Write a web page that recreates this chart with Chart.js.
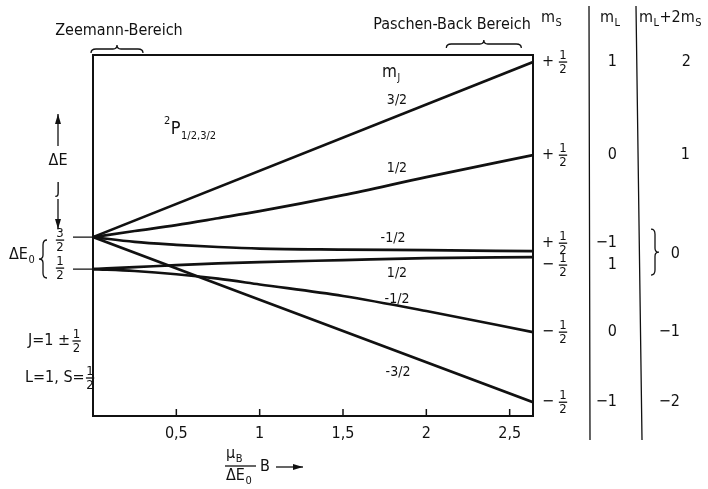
<!DOCTYPE html>
<html>
<head>
<meta charset="utf-8">
<script src="https://cdn.jsdelivr.net/npm/chart.js@4"></script>
<style>
  html, body { margin: 0; padding: 0; background: #fff; }
  #wrap { width: 708px; height: 489px; position: relative; }
</style>
</head>
<body>
<div id="wrap"><canvas id="zeeman"></canvas></div>
<script>
const feld = [0, 0.25, 0.5, 0.75, 1, 1.5, 2, 2.64];
const feldLin = [0, 2.64];

// Energien in Einheiten von dE0, gezaehlt vom J=1/2 Niveau
const mj32 = [1.0, 6.47];
const mjm32 = [1.0, -4.16];
const mj12oben = [1.0, 1.19, 1.375, 1.59, 1.81, 2.31, 2.875, 3.56];
const mjm12oben = [1.0, 0.85, 0.76, 0.69, 0.64, 0.61, 0.59, 0.56];
const mj12unten = [0, 0.06, 0.125, 0.18, 0.22, 0.28, 0.34, 0.375];
const mjm12unten = [0, -0.06, -0.16, -0.30, -0.48, -0.84, -1.31, -1.97];

const xTicks = [0.5, 1, 1.5, 2, 2.5];

// Tabelle rechts: m_S, m_L, m_L+2m_S (von oben nach unten)
const msVorz = ["+", "+", "+", "\u2212", "\u2212", "\u2212"];
const mlWerte = ["1", "0", "\u22121", "1", "0", "\u22121"];
const summe = ["2", "1", "0", "0", "\u22121", "\u22122"];

const FONT = "'DejaVu Sans Condensed', 'Liberation Sans Narrow', sans-serif";

function pts(xs, ys) {
  return xs.map((x, i) => ({ x: x, y: ys[i] }));
}

function linie(data) {
  return {
    data: data,
    showLine: true,
    borderColor: "#111",
    borderWidth: 2.7,
    pointRadius: 0,
    cubicInterpolationMode: "monotone",
  };
}

function text(ctx, s, x, y, size, align) {
  ctx.font = size + "px " + FONT;
  ctx.textAlign = align || "center";
  ctx.textBaseline = "middle";
  ctx.fillText(s, x, y);
}

// Textteile nebeneinander: [text, groesse, versatz]
function folge(ctx, teile, x, y) {
  teile.forEach(t => {
    ctx.font = t[1] + "px " + FONT;
    ctx.textAlign = "left";
    ctx.textBaseline = "middle";
    ctx.fillText(t[0], x, y + (t[2] || 0));
    x += ctx.measureText(t[0]).width + 0.5;
  });
  return x;
}

// gestapelter Bruch mit Strich bei y
function bruch(ctx, z, n, x, y, size) {
  text(ctx, z, x, y - size * 0.5, size);
  text(ctx, n, x, y + size * 0.55, size);
  ctx.lineWidth = 1.3;
  ctx.beginPath();
  ctx.moveTo(x - size * 0.32, y);
  ctx.lineTo(x + size * 0.32, y);
  ctx.stroke();
}

// waagerechte geschweifte Klammer, Spitze nach oben
function klammerOben(ctx, x1, x2, y) {
  const m = (x1 + x2) / 2;
  ctx.lineWidth = 1.3;
  ctx.beginPath();
  ctx.moveTo(x1, y + 4);
  ctx.quadraticCurveTo(x1, y, x1 + 5, y);
  ctx.lineTo(m - 4, y);
  ctx.quadraticCurveTo(m, y, m, y - 4);
  ctx.quadraticCurveTo(m, y, m + 4, y);
  ctx.lineTo(x2 - 5, y);
  ctx.quadraticCurveTo(x2, y, x2, y + 4);
  ctx.stroke();
}

// senkrechte Klammer, dir=-1 oeffnet nach rechts ({), dir=1 nach links (})
function klammerSenk(ctx, x, y1, y2, dir) {
  const m = (y1 + y2) / 2;
  ctx.lineWidth = 1.3;
  ctx.beginPath();
  ctx.moveTo(x - dir * 4, y1);
  ctx.quadraticCurveTo(x, y1, x, y1 + 5);
  ctx.lineTo(x, m - 4);
  ctx.quadraticCurveTo(x, m, x + dir * 4, m);
  ctx.quadraticCurveTo(x, m, x, m + 4);
  ctx.lineTo(x, y2 - 5);
  ctx.quadraticCurveTo(x, y2, x - dir * 4, y2);
  ctx.stroke();
}

function pfeil(ctx, x1, y1, x2, y2) {
  const a = Math.atan2(y2 - y1, x2 - x1);
  ctx.lineWidth = 1.3;
  ctx.beginPath();
  ctx.moveTo(x1, y1);
  ctx.lineTo(x2, y2);
  ctx.stroke();
  ctx.beginPath();
  ctx.moveTo(x2, y2);
  ctx.lineTo(x2 - 10 * Math.cos(a) + 3 * Math.sin(a), y2 - 10 * Math.sin(a) - 3 * Math.cos(a));
  ctx.lineTo(x2 - 10 * Math.cos(a) - 3 * Math.sin(a), y2 - 10 * Math.sin(a) + 3 * Math.cos(a));
  ctx.closePath();
  ctx.fill();
}

const beschriftung = {
  id: "beschriftung",
  afterDatasetsDraw(chart) {
    const ctx = chart.ctx;
    const a = chart.chartArea;
    const sx = chart.scales.x;
    const sy = chart.scales.y;
    ctx.save();
    ctx.fillStyle = "#111";
    ctx.strokeStyle = "#111";

    // Rahmen
    ctx.lineWidth = 2;
    ctx.strokeRect(a.left, a.top, a.right - a.left, a.bottom - a.top);

    // Teilstriche nach innen
    ctx.lineWidth = 1.5;
    xTicks.forEach(t => {
      const px = sx.getPixelForValue(t);
      ctx.beginPath();
      ctx.moveTo(px, a.bottom);
      ctx.lineTo(px, a.bottom - 7);
      ctx.stroke();
    });

    // Bereiche oben
    text(ctx, "Zeemann-Bereich", 119, 31, 16);
    klammerOben(ctx, a.left - 2, sx.getPixelForValue(0.3), 49);
    text(ctx, "Paschen-Back Bereich", 452, 25, 16);
    klammerOben(ctx, sx.getPixelForValue(2.12), sx.getPixelForValue(2.57), 44);

    // Kopf der Tabelle
    folge(ctx, [["m", 16], ["S", 11, 5]], 541, 18);
    folge(ctx, [["m", 16], ["L", 11, 5]], 600, 18);
    folge(ctx, [["m", 16], ["L", 11, 5], ["+2m", 16], ["S", 11, 5]], 639, 18);

    ctx.lineWidth = 1.3;
    ctx.beginPath();
    ctx.moveTo(589, 6);
    ctx.lineTo(590, 440);
    ctx.moveTo(636, 6);
    ctx.lineTo(642, 440);
    ctx.stroke();

    // Endwerte der Kurven rechts
    const enden = [mj32[1], mj12oben[7], mjm12oben[7], mj12unten[7], mjm12unten[7], mjm32[1]];
    const ys = enden.map(v => sy.getPixelForValue(v));
    ys[2] -= 8;
    ys[3] += 8;
    ys.forEach((py, i) => {
      text(ctx, msVorz[i], 548, py, 16);
      bruch(ctx, "1", "2", 563, py, 13);
      text(ctx, mlWerte[i], 617, py, 16, "right");
    });
    text(ctx, summe[0], 691, ys[0], 16, "right");
    text(ctx, summe[1], 690, ys[1], 16, "right");
    text(ctx, summe[2], 680, (ys[2] + ys[3]) / 2, 16, "right");
    klammerSenk(ctx, 655, ys[2] - 14, ys[3] + 10, 1);
    text(ctx, summe[4], 680, ys[4], 16, "right");
    text(ctx, summe[5], 680, ys[5], 16, "right");

    // linke Seite
    const y32 = sy.getPixelForValue(mj32[0]);
    const y12 = sy.getPixelForValue(mj12unten[0]);
    ctx.lineWidth = 1.3;
    ctx.beginPath();
    ctx.moveTo(73, y32);
    ctx.lineTo(a.left, y32);
    ctx.moveTo(73, y12);
    ctx.lineTo(a.left, y12);
    ctx.stroke();
    pfeil(ctx, 58, 146, 58, 114);
    text(ctx, "\u0394E", 58, 161, 16);
    text(ctx, "J", 58, 190, 16);
    pfeil(ctx, 58, 199, 58, 229);
    bruch(ctx, "3", "2", 60, y32 + 3, 13);
    bruch(ctx, "1", "2", 60, y12 - 1, 13);
    folge(ctx, [["\u0394E", 16], ["0", 11, 5]], 9, 255);
    klammerSenk(ctx, 43, 240, 278, -1);
    let xe = folge(ctx, [["J=1 \u00b1", 16]], 28, 341);
    bruch(ctx, "1", "2", xe + 6, 341, 13);
    xe = folge(ctx, [["L=1, S=", 16]], 25, 378);
    bruch(ctx, "1", "2", xe + 5, 378, 13);

    // Termsymbol
    folge(ctx, [["2", 11, -8], ["P", 18], ["1/2,3/2", 11, 7]], 164, 129);

    // m_J an den Kurven
    folge(ctx, [["m", 17], ["J", 10, 5]], 382, 73);
    text(ctx, "3/2", 397, 100, 14);
    text(ctx, "1/2", 397, 168, 14);
    text(ctx, "-1/2", 393, 238, 14);
    text(ctx, "1/2", 397, 273, 14);
    text(ctx, "-1/2", 397, 299, 14);
    text(ctx, "-3/2", 398, 372, 14);

    // Achsentitel
    folge(ctx, [["\u03bc", 16], ["B", 11, 5]], 226, 454);
    ctx.lineWidth = 1.3;
    ctx.beginPath();
    ctx.moveTo(225, 466);
    ctx.lineTo(256, 466);
    ctx.stroke();
    folge(ctx, [["\u0394E", 16], ["0", 11, 5]], 226, 476);
    text(ctx, "B", 265, 467, 16);
    pfeil(ctx, 276, 467, 303, 467);
    ctx.restore();
  },
};

new Chart(document.getElementById("zeeman"), {
  type: "scatter",
  data: {
    datasets: [
      linie(pts(feldLin, mj32)),
      linie(pts(feld, mj12oben)),
      linie(pts(feld, mjm12oben)),
      linie(pts(feld, mj12unten)),
      linie(pts(feld, mjm12unten)),
      linie(pts(feldLin, mjm32)),
    ],
  },
  options: {
    responsive: true,
    maintainAspectRatio: false,
    animation: false,
    layout: { padding: { left: 93, right: 175, top: 55, bottom: 43 } },
    plugins: { legend: { display: false }, tooltip: { enabled: false } },
    scales: {
      x: {
        type: "linear",
        min: 0,
        max: 2.64,
        afterBuildTicks(scale) {
          scale.ticks = xTicks.map(v => ({ value: v }));
        },
        afterFit(scale) {
          scale.height = 30;
        },
        grid: { display: false, drawTicks: false },
        border: { display: false },
        ticks: {
          padding: 8,
          color: "#111",
          font: { family: FONT, size: 16 },
          callback: v => String(v).replace(".", ","),
        },
      },
      y: {
        type: "linear",
        display: false,
        min: -4.59,
        max: 6.69,
      },
    },
  },
  plugins: [beschriftung],
});
</script>
</body>
</html>
